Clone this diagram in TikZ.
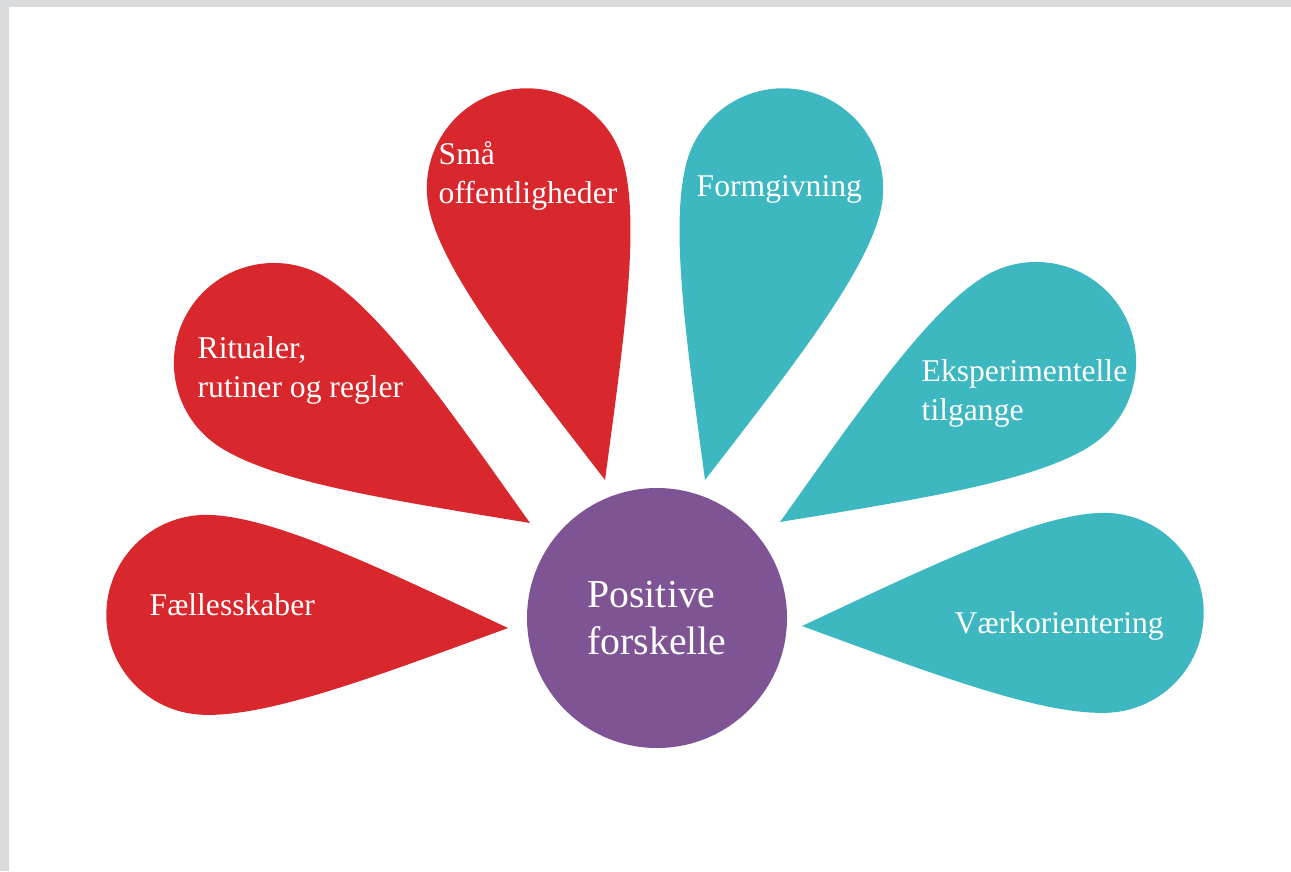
\documentclass[tikz,border=0pt]{standalone}
\usepackage{fontspec}
\setmainfont{Liberation Serif}
\usepackage{tikz}
\definecolor{dropred}{RGB}{216,40,45}
\definecolor{dropteal}{RGB}{61,183,192}
\definecolor{hubpurple}{RGB}{127,84,148}
\definecolor{framegray}{RGB}{217,218,220}
\tikzset{
    droptext/.style={text=white, inner sep=0mm, anchor=base west, align=left,
        font=\fontsize{9}{11}\selectfont}
}
\tikzset{
    hub/.style={circle, inner sep=0mm, fill=hubpurple, minimum size=2.6cm,
        text=white, align=left, font=\fontsize{11.3}{13.6}\selectfont}
}
% drop: tip coordinate, direction of the bulb, colour
\newcommand{\drop}[3]{
    \fill[#3, shift={(#1)}, rotate=#2] (0,0)
        .. controls (1.25,0.52) and (2.35,1) .. (3.02,1)
        arc[start angle=90, end angle=-90, radius=1]
        .. controls (2.35,-1) and (1.25,-0.52) .. (0,0) -- cycle;
}

\begin{document}
\begin{tikzpicture}
    \useasboundingbox (0cm, 0cm) rectangle (12.91cm, 8.71cm);
    \fill[framegray] (0cm, 8.64cm) rectangle (12.91cm, 8.71cm);
    \fill[framegray] (0cm, 0cm) rectangle (0.09cm, 8.71cm);

    \coordinate (fa) at (5.08cm, 2.43cm);
    \coordinate (ri) at (5.30cm, 3.48cm);
    \coordinate (sm) at (6.05cm, 3.91cm);
    \coordinate (fo) at (7.05cm, 3.91cm);
    \coordinate (ek) at (7.80cm, 3.49cm);
    \coordinate (va) at (8.02cm, 2.45cm);

    \drop{fa}{177.5}{dropred}
    \drop{ri}{148}{dropred}
    \drop{sm}{105}{dropred}
    \drop{fo}{75}{dropteal}
    \drop{ek}{32}{dropteal}
    \drop{va}{2.5}{dropteal}

    \node (hub) at (6.57cm, 2.53cm) [hub] {Positive\\forskelle};

    % base is the last line of each label
    \node (fatext) at (1.49cm, 2.56cm) [droptext] {Fællesskaber};
    \node (ritext) at (1.97cm, 4.74cm) [droptext] {Ritualer,\\rutiner og regler};
    \node (smtext) at (4.38cm, 6.68cm) [droptext] {Små\\offentligheder};
    \node (fotext) at (6.96cm, 6.74cm) [droptext] {Formgivning};
    \node (ektext) at (9.21cm, 4.51cm) [droptext] {Eksperimentelle\\tilgange};
    \node (vatext) at (9.54cm, 2.38cm) [droptext] {Værkorientering};
\end{tikzpicture}
\end{document}
